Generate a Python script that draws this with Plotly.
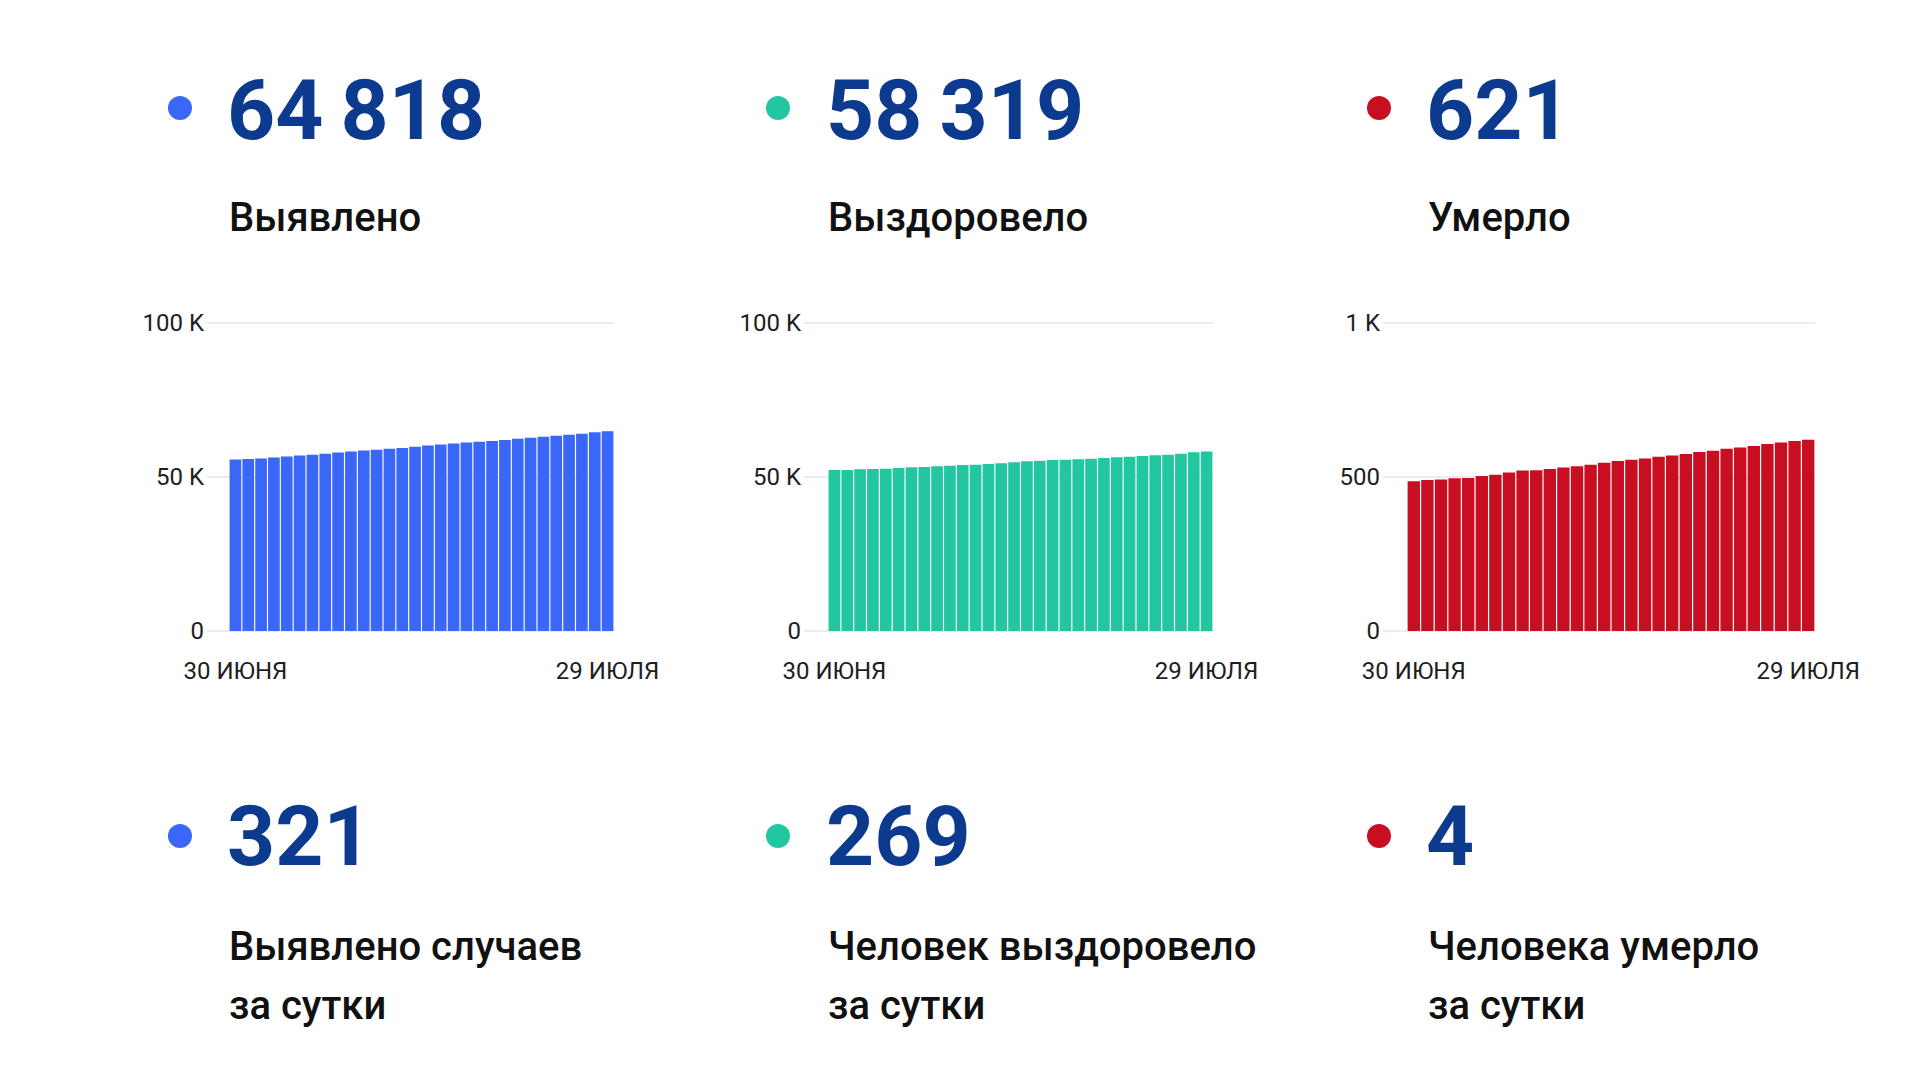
import plotly.graph_objects as go

# ---------------- data ----------------
days = ["30.06", "01.07", "02.07", "03.07", "04.07", "05.07", "06.07", "07.07", "08.07", "09.07",
        "10.07", "11.07", "12.07", "13.07", "14.07", "15.07", "16.07", "17.07", "18.07", "19.07",
        "20.07", "21.07", "22.07", "23.07", "24.07", "25.07", "26.07", "27.07", "28.07", "29.07"]
x_tick_labels = ["30 ИЮНЯ", "29 ИЮЛЯ"]

confirmed = [55700, 55820, 56040, 56360, 56690, 57010, 57230, 57550, 57990, 58310,
             58640, 58860, 59180, 59400, 59830, 60260, 60590, 60910, 61240, 61450,
             61670, 62000, 62430, 62750, 63080, 63400, 63730, 64050, 64497, 64818]
recovered = [52260, 52260, 52480, 52590, 52700, 52910, 53130, 53240, 53450, 53670,
             53890, 54000, 54210, 54430, 54750, 55080, 55290, 55510, 55620, 55730,
             55940, 56160, 56380, 56590, 56810, 57030, 57240, 57570, 58050, 58319]
deaths = [486, 490, 492, 496, 497, 503, 507, 515, 521, 522,
          526, 531, 535, 540, 546, 552, 556, 560, 566, 570,
          575, 581, 585, 592, 596, 601, 607, 612, 617, 621]

totals = [64818, 58319, 621]
total_labels = ["Выявлено", "Выздоровело", "Умерло"]
daily = [321, 269, 4]
daily_labels_1 = ["Выявлено случаев", "Человек выздоровело", "Человека умерло"]
daily_labels_2 = ["за сутки", "за сутки", "за сутки"]

y_ticks_big = [0, 50000, 100000]
y_ticktext_big = ["0", "50 K", "100 K"]
y_ticks_small = [0, 500, 1000]
y_ticktext_small = ["0", "500", "1 K"]

# ---------------- style ----------------
W, H = 1920, 1080
colors = ["#3a67f8", "#22c7a1", "#c80f22"]
num_color = "#0b3a8e"
txt_color = "#111111"
tick_color = "#1e1e1e"
grid_color = "#ececec"
FONT = "Roboto"

def fx(px):
    return px / W

def fy(py):
    return 1 - py / H

# chart geometry in pixels: (grid start, bar start, bar end)
charts = [(207, 229, 614), (804, 828, 1213), (1383, 1407, 1815)]
y_top_px, y_zero_px = 323, 631
pad_frac = 0.005  # small range padding so edge gridlines are drawn

series = [confirmed, recovered, deaths]
fig = go.Figure()

for i, (gx, bx0, bx1) in enumerate(charts):
    n = len(days)
    ppu = (bx1 - bx0) / n
    gap_units = (bx0 - gx) / ppu
    xa = "x" if i == 0 else f"x{i+1}"
    ya = "y" if i == 0 else f"y{i+1}"
    fig.add_trace(go.Bar(
        x=list(range(n)), y=series[i], xaxis=xa, yaxis=ya,
        marker=dict(color=colors[i], line=dict(width=0)),
        hoverinfo="skip", showlegend=False,
    ))
    big = i < 2
    top = 100000 if big else 1000
    pad_px = (y_zero_px - y_top_px) * pad_frac
    xkey = "xaxis" if i == 0 else f"xaxis{i+1}"
    ykey = "yaxis" if i == 0 else f"yaxis{i+1}"
    fig.update_layout(**{
        xkey: dict(
            domain=[fx(gx), fx(bx1)], anchor=ya,
            range=[-0.5 - gap_units, n - 0.5],
            tickmode="array", tickvals=[0, n - 1], ticktext=x_tick_labels,
            showgrid=False, zeroline=False, showline=False, ticks="",
            tickfont=dict(family=FONT, size=24, color=tick_color),
            ticklabelstandoff=21, fixedrange=True, automargin=False,
        ),
        ykey: dict(
            domain=[fy(y_zero_px + pad_px), fy(y_top_px - pad_px)], anchor=xa,
            range=[-top * pad_frac, top * (1 + pad_frac)],
            tickmode="array",
            tickvals=y_ticks_big if big else y_ticks_small,
            ticktext=y_ticktext_big if big else y_ticktext_small,
            showgrid=True, gridcolor=grid_color, gridwidth=2,
            zeroline=False, showline=False, ticks="",
            tickfont=dict(family=FONT, size=24, color=tick_color),
            ticklabelstandoff=2, fixedrange=True, automargin=False,
        ),
    })

# header texts and dots
num_x = [229, 828, 1428]
dot_x = [180, 778, 1379]
annotations = []
shapes = []
for i in range(3):
    for (num, yc) in ((totals[i], 108), (daily[i], 836)):
        shapes.append(dict(type="circle", xref="paper", yref="paper",
                           x0=fx(dot_x[i] - 12), x1=fx(dot_x[i] + 12),
                           y0=fy(yc + 12), y1=fy(yc - 12),
                           fillcolor=colors[i], line=dict(width=0)))
    annotations.append(dict(
        x=fx(num_x[i] - 4), y=fy(111), xref="paper", yref="paper",
        xanchor="left", yanchor="middle", showarrow=False,
        text=f"{totals[i]:,}".replace(",", "\u2009"),
        font=dict(family=FONT, size=84, color=num_color, weight=700),
    ))
    annotations.append(dict(
        x=fx(num_x[i] - 4), y=fy(836.5), xref="paper", yref="paper",
        xanchor="left", yanchor="middle", showarrow=False,
        text=f"{daily[i]:,}".replace(",", "\u2009"),
        font=dict(family=FONT, size=84, color=num_color, weight=700),
    ))
    annotations.append(dict(
        x=fx(num_x[i] - 2), y=fy(217.5), xref="paper", yref="paper",
        xanchor="left", yanchor="middle", showarrow=False,
        text=total_labels[i],
        font=dict(family=FONT, size=40, color=txt_color, weight=500),
    ))
    annotations.append(dict(
        x=fx(num_x[i] - 2), y=fy(946.5), xref="paper", yref="paper",
        xanchor="left", yanchor="middle", showarrow=False,
        text=daily_labels_1[i],
        font=dict(family=FONT, size=40, color=txt_color, weight=500),
    ))
    annotations.append(dict(
        x=fx(num_x[i] - 2), y=fy(1005.5), xref="paper", yref="paper",
        xanchor="left", yanchor="middle", showarrow=False,
        text=daily_labels_2[i],
        font=dict(family=FONT, size=40, color=txt_color, weight=500),
    ))

fig.update_layout(
    width=W, height=H,
    margin=dict(l=0, r=0, t=0, b=0, autoexpand=False),
    paper_bgcolor="white", plot_bgcolor="white",
    bargap=0.09,
    annotations=annotations, shapes=shapes,
    font=dict(family=FONT),
)

fig.write_html("out.html", config={"displayModeBar": False})
